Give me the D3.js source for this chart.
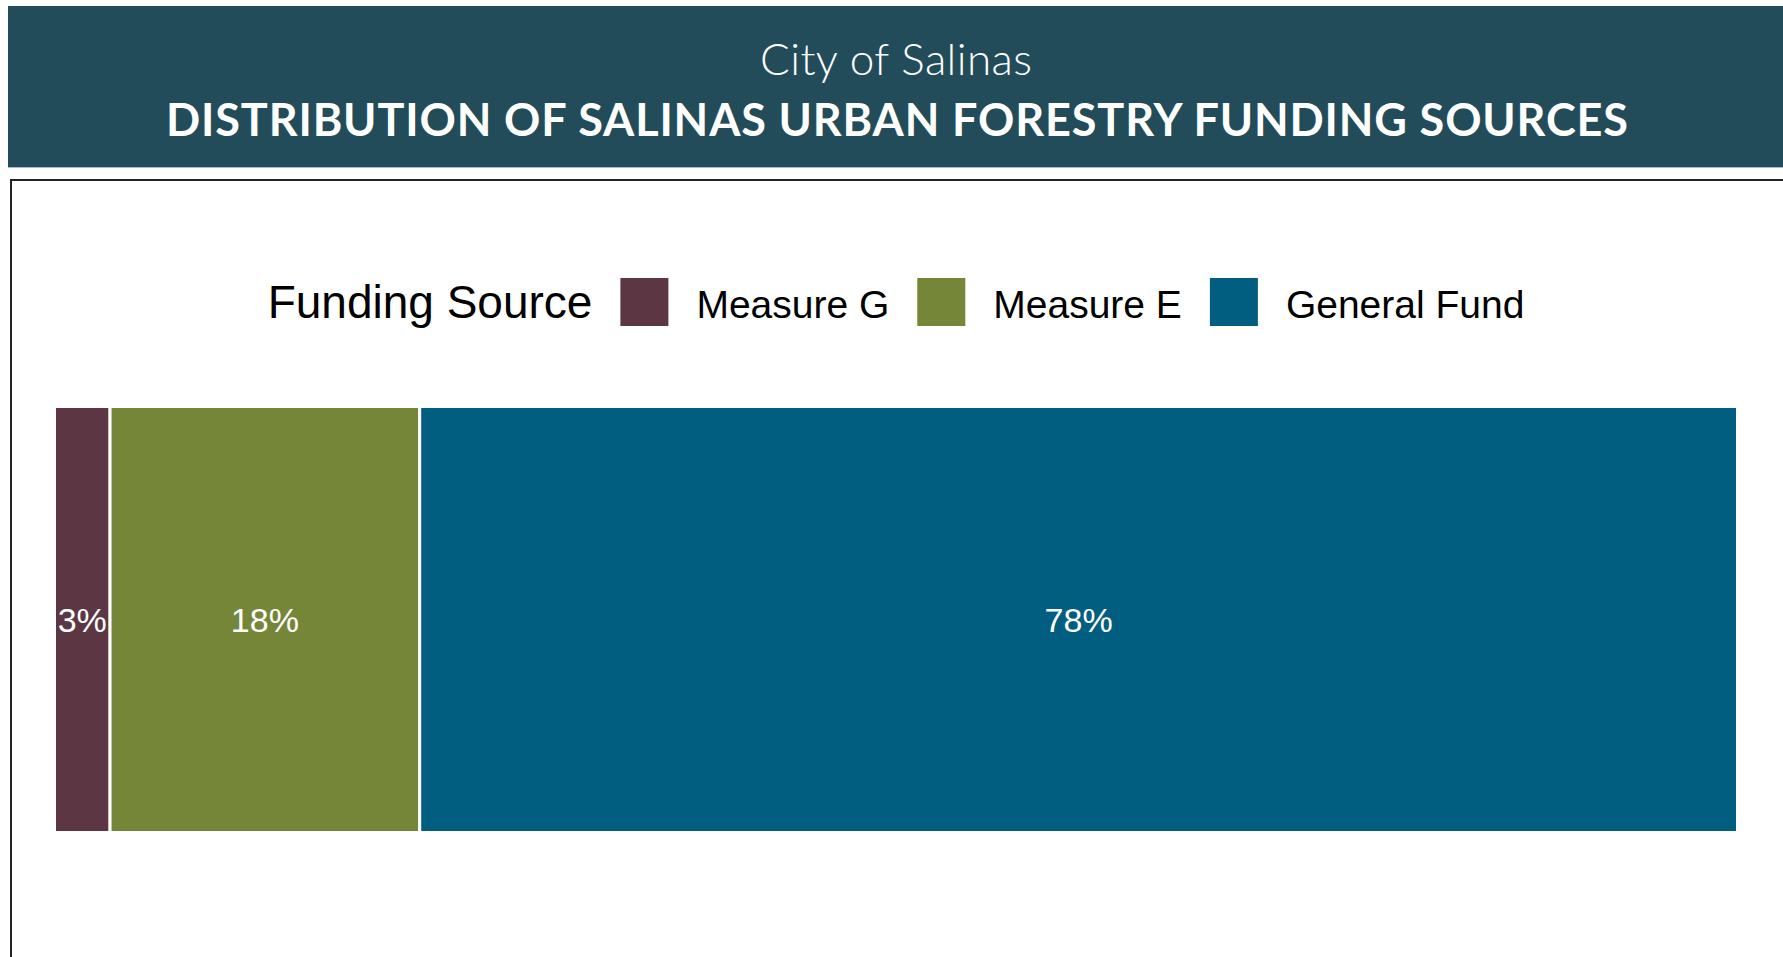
<!DOCTYPE html>
<html>
<head>
<meta charset="utf-8">
<script src="https://cdn.jsdelivr.net/npm/d3@7"></script>
<style>
  html, body { margin: 0; padding: 0; background: #fff; overflow: hidden; }
  svg { display: block; }
  .legend text { font-family: "Liberation Sans", Arial, sans-serif; fill: #000; }
  .seg-label { font-family: "Liberation Sans", Arial, sans-serif; fill: #fff; font-size: 34px; }
</style>
</head>
<body>
<svg id="chart"></svg>
<script>
// funding shares, percent of total
const sources = ['Measure G', 'Measure E', 'General Fund'];
const shares = [3.3, 18.4, 78.3];
const shareLabels = ['3%', '18%', '78%'];
const colors = ['#5c3643', '#758639', '#025e80'];

const W = 1783, H = 957;
const svg = d3.select('#chart').attr('width', W).attr('height', H);

// header band
svg.append('rect')
  .attr('x', 8).attr('y', 6).attr('width', W - 8).attr('height', 161)
  .attr('fill', '#234c5a');
svg.append('line')
  .attr('x1', 8).attr('x2', W).attr('y1', 167.5).attr('y2', 167.5)
  .attr('stroke', '#a9bcc2').attr('stroke-width', 1);

svg.append('text')
  .attr('x', 896).attr('y', 75)
  .attr('text-anchor', 'middle')
  .style('font-family', 'Lato, "Open Sans", sans-serif')
  .style('font-weight', 300)
  .style('font-size', '44px')
  .attr('fill', '#fff')
  .attr('textLength', 272).attr('lengthAdjust', 'spacing')
  .text('City of Salinas');

svg.append('text')
  .attr('x', 897).attr('y', 136)
  .attr('text-anchor', 'middle')
  .style('font-family', 'Lato, "Open Sans", sans-serif')
  .style('font-weight', 700)
  .style('font-size', '45px')
  .attr('fill', '#fff')
  .attr('textLength', 1462).attr('lengthAdjust', 'spacing')
  .text('DISTRIBUTION OF SALINAS URBAN FORESTRY FUNDING SOURCES');

// plot panel (runs off the right and bottom edges)
svg.append('rect')
  .attr('x', 11).attr('y', 180).attr('width', W + 20).attr('height', H)
  .attr('fill', '#fff').attr('stroke', '#222').attr('stroke-width', 2);

// scales
const x = d3.scaleLinear().domain([0, 100]).range([54.5, 1737.5]);
const y = d3.scaleBand().domain(['all']).range([406.5, 832.5]);

let acc = 0;
const segs = shares.map((v, i) => {
  const s = {source: sources[i], value: v, label: shareLabels[i], color: colors[i], x0: acc, x1: acc + v};
  acc += v;
  return s;
});

const bars = svg.append('g').classed('bars', true);
bars.selectAll('rect')
  .data(segs)
  .enter()
  .append('rect')
  .attr('x', d => x(d.x0))
  .attr('width', d => x(d.x1) - x(d.x0))
  .attr('y', y('all'))
  .attr('height', y.bandwidth())
  .attr('fill', d => d.color)
  .attr('stroke', '#fff')
  .attr('stroke-width', 3);

bars.selectAll('text')
  .data(segs)
  .enter()
  .append('text')
  .classed('seg-label', true)
  .attr('x', d => x((d.x0 + d.x1) / 2))
  .attr('y', y('all') + y.bandwidth() / 2 + 12)
  .attr('text-anchor', 'middle')
  .text(d => d.label);

// legend, laid out left to right then centred over the bar
const legend = svg.append('g').classed('legend', true);
const gap = 28, sw = 48, baseY = 318;
let cx = 0;
const title = legend.append('text')
  .attr('x', 0).attr('y', baseY)
  .style('font-size', '46px')
  .text('Funding Source');
cx += title.node().getComputedTextLength() + gap;

segs.forEach(d => {
  legend.append('rect')
    .attr('x', cx).attr('y', 278).attr('width', sw).attr('height', sw)
    .attr('fill', d.color);
  cx += sw + gap;
  const t = legend.append('text')
    .attr('x', cx).attr('y', baseY)
    .style('font-size', '39px')
    .text(d.source);
  cx += t.node().getComputedTextLength() + gap;
});
const legendW = cx - gap;
legend.attr('transform', `translate(${896 - legendW / 2},0)`);
</script>
</body>
</html>
